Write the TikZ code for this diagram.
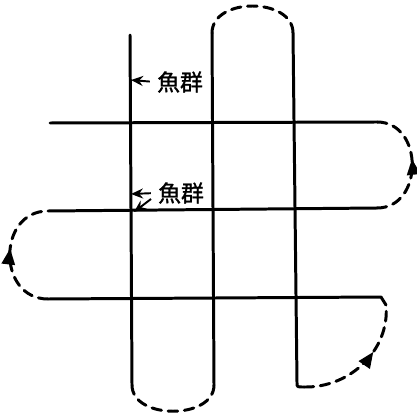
\documentclass[tikz,border=0pt]{standalone}
\usepackage{fontspec}
\newfontfamily\cjkfont[FakeBold=1.2]{Noto Sans CJK JP}
\usetikzlibrary{arrows.meta, decorations.markings}

\begin{document}
\begin{tikzpicture}[x=0.02cm, y=-0.02cm,
  route/.style={line width=1.7pt, line cap=round, line join=round},
  turn/.style={route, dash pattern=on 5.5pt off 3.8pt},
  turnarrow/.style={turn, postaction={decorate},
    decoration={markings, mark=at position #1 with {\arrow{Triangle[length=3.2mm, width=2.6mm]}}}},
  tag/.style={font=\cjkfont\fontsize{13}{14}\selectfont, inner sep=1pt},
  pointer/.style={line width=1.1pt, -{Stealth[length=2.4mm, width=2mm]}}]
  \useasboundingbox (0,0) rectangle (416,418);

  % ends of the straight runs
  \coordinate (Atop) at (130,35);
  \coordinate (Abot) at (132,385);
  \coordinate (Bbot) at (214,385);
  \coordinate (Btop) at (212,33);
  \coordinate (Ctop) at (293,33);
  \coordinate (Cbot) at (297,383);
  \coordinate (Cend) at (304,387);
  \coordinate (H3c) at (386,305);
  \coordinate (H3e) at (381,297);
  \coordinate (H3w) at (48,299);
  \coordinate (H2w) at (48,211);
  \coordinate (H2e) at (377,208);
  \coordinate (H1e) at (377,122);
  \coordinate (H1w) at (50,123);

  % straight runs
  \draw[route] (Atop) -- (Abot);
  \draw[route] (Bbot) -- (Btop);
  \draw[route] (Ctop) -- (Cbot) .. controls (297,387) .. (Cend);
  \draw[route] (H3c) -- (H3e) -- (H3w);
  \draw[route] (H2w) -- (H2e);
  \draw[route] (H1e) -- (H1w);

  % turns
  \draw[turn] (Abot) .. controls (132,420) and (214,420) .. (Bbot);
  \draw[turn] (Btop) .. controls (212,-3) and (293,-3) .. (Ctop);
  \draw[turnarrow=0.62] (Cend) .. controls (350,388) and (390,350) .. (H3c);
  \draw[turnarrow=0.55] (H3w) .. controls (-3,299) and (-3,211) .. (H2w);
  \draw[turnarrow=0.55] (H2e) .. controls (424,208) and (424,122) .. (H1e);

  % labels
  \node[tag] (fish1) at (180,82) {魚群};
  \node[tag] (fish2) at (181,193) {魚群};
  \coordinate (hit1) at (131,80);
  \coordinate (hit2) at (131,194);
  \coordinate (tail3) at (151,199);
  \coordinate (hit3) at (134,212);
  \draw[pointer, shorten <=3pt] (fish1.west) -- (hit1);
  \draw[pointer, shorten <=3pt] (fish2.west) -- (hit2);
  \draw[pointer] (tail3) -- (hit3);
\end{tikzpicture}
\end{document}
